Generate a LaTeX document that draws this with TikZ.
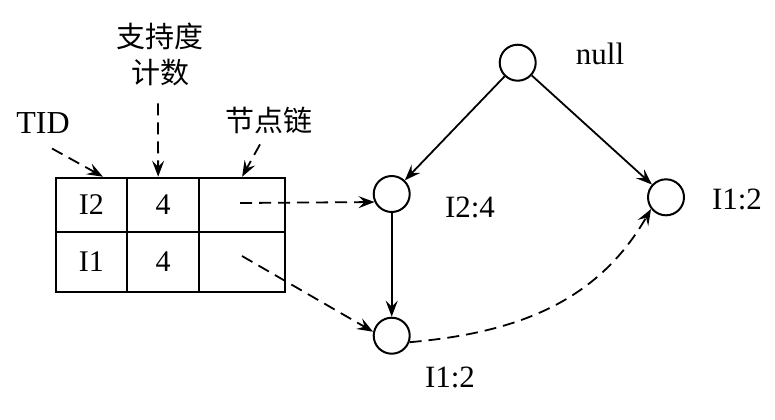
\documentclass[tikz,border=0pt]{standalone}
\usepackage{fontspec}
\setmainfont{Liberation Serif}
\newfontfamily\cjk{Noto Sans CJK SC}
\usetikzlibrary{arrows.meta}
\begin{document}
\begin{tikzpicture}[x=0.5pt,y=-0.5pt,line width=1pt,
cell/.style ={rectangle, draw, inner sep=0pt,
  font=\fontsize{15}{17}\selectfont
},
vertex/.style ={circle, draw, minimum size=18pt, inner sep=0pt},
lbl/.style ={font=\fontsize{15.5}{18}\selectfont, inner sep=1pt},
cjklbl/.style ={font=\cjk\fontsize{14.5}{17}\selectfont, inner sep=1pt},
link/.style ={line width=0.9pt, -{Stealth[length=8pt,width=6pt,inset=3pt]}},
dlink/.style ={link, dash pattern=on 6pt off 3.5pt}]
\useasboundingbox (0,0) rectangle (775,419);
% header table
\node (c11) at (91.35,204.7) [cell, minimum width=35.65pt, minimum height=27pt] {I2};
\node (c12) at (163.15,204.7) [cell, minimum width=36.15pt, minimum height=27pt] {4};
\node (c13) at (242.15,204.7) [cell, minimum width=42.85pt, minimum height=27pt] {};
\node (c21) at (91.35,262) [cell, minimum width=35.65pt, minimum height=30.3pt] {I1};
\node (c22) at (163.15,262) [cell, minimum width=36.15pt, minimum height=30.3pt] {4};
\node (c23) at (242.15,262) [cell, minimum width=42.85pt, minimum height=30.3pt] {};
\node (tid) at (43,123) [lbl, font=\fontsize{16}{18}\selectfont] {TID};
\node (zcd) at (160,36.5) [cjklbl] {支持度};
\node (js) at (160,73) [cjklbl] {计数};
\node (jdl) at (268.5,120) [cjklbl] {节点链};
% tree
\node (n0) at (517.7,62.7) [vertex] {};
\node (n1) at (391.7,194) [vertex] {};
\node (n2) at (666,197.3) [vertex] {};
\node (n3) at (391.7,335.7) [vertex] {};
\node (l0) at (600,54) [lbl] {null};
\node (l1) at (470,207) [lbl] {I2:4};
\node (l2) at (737,199) [lbl] {I1:2};
\node (l3) at (450,377) [lbl] {I1:2};
\coordinate (q1) at (240,203);
\coordinate (q2) at (242,256);
\draw[link] (n0) -- (n1);
\draw[link] (n0) -- (n2);
\draw[link] (n1) -- (n3);
\draw[dlink] (q1) -- (n1.205);
\draw[dlink] (q2) -- (n3.168);
\draw[dlink] (n3.-20) to[out=5,in=240] (n2.218);
\draw[dlink] ([xshift=4.5pt,yshift=-6pt]tid.south) -- ([xshift=5.8pt]c11.north);
\draw[dlink] ([xshift=-1pt,yshift=-7pt]js.south) -- ([xshift=-2.5pt]c12.north);
\draw[dlink] ([xshift=-4.25pt,yshift=-4pt]jdl.south) -- (c13.north);
\end{tikzpicture}
\end{document}
